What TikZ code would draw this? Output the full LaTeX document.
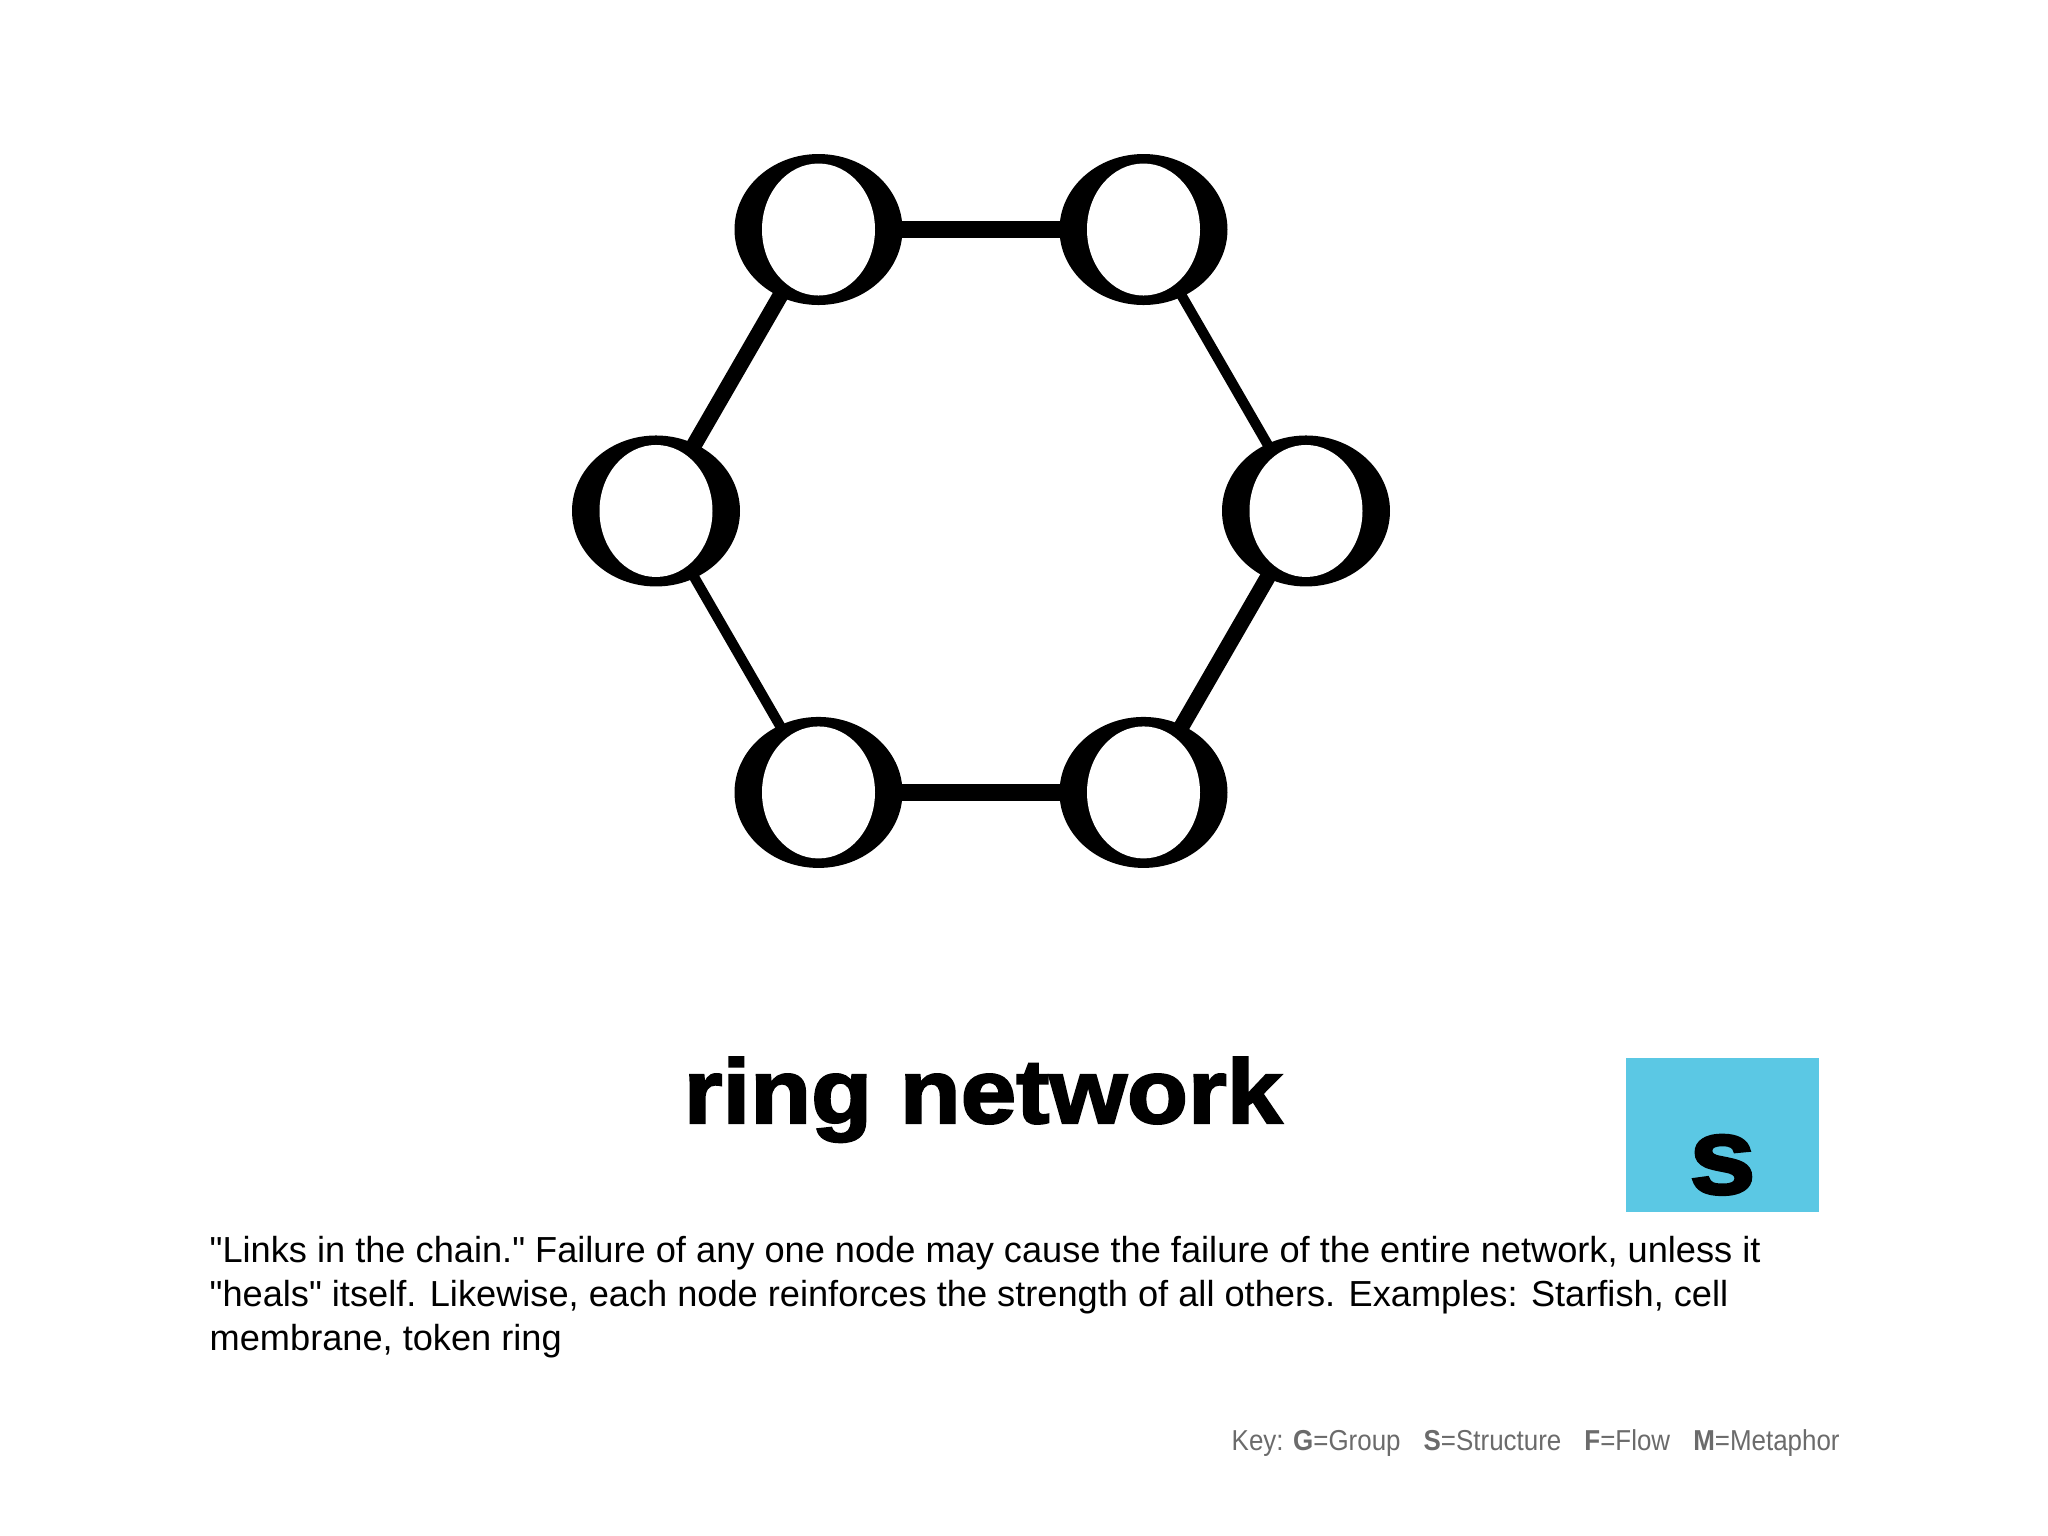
\documentclass[tikz,border=0pt]{standalone}
\usepackage{fontspec}
\setmainfont{Liberation Sans}
\newfontfamily\titlefont[FakeBold=2.5,FakeStretch=1.1]{Liberation Sans Bold}
\newfontfamily\bodyfont{Liberation Sans}
\newfontfamily\keyfont[FakeStretch=0.9]{Liberation Sans}
\usetikzlibrary{shapes.geometric}

\definecolor{keygray}{HTML}{6B6B6B}
\definecolor{structblue}{HTML}{5BC8E4}

\tikzset{
  ringnode/.style={ellipse, fill=black, inner sep=0pt,
    minimum width=1.68cm, minimum height=1.51cm,
    path picture={\fill[white, rotate around={15:(path picture bounding box.center)}]
      (path picture bounding box.center) ellipse [x radius=0.565cm, y radius=0.66cm];}},
  link/.style={shorten <=-2pt, shorten >=-2pt},
  barlink/.style={link, line width=4.9pt},
  thicklink/.style={link, line width=4.5pt},
  thinlink/.style={link, line width=2.9pt}
}

\begin{document}
\begin{tikzpicture}

  \useasboundingbox[fill=white] (0,0) rectangle (20.48,15.36);

  \begin{scope}[shift={(9.81,10.25)}]
  \draw (120:3.25) node[ringnode] (a) {};
  \draw (60:3.25) node[ringnode] (b) {};
  \draw (0:3.25) node[ringnode] (c) {};
  \draw (300:3.25) node[ringnode] (d) {};
  \draw (240:3.25) node[ringnode] (e) {};
  \draw (180:3.25) node[ringnode] (f) {};
  \end{scope}

  \draw[barlink] (a) -- (b);
  \draw[thinlink] (b) -- (c);
  \draw[thicklink] (c) -- (d);
  \draw[barlink] (d) -- (e);
  \draw[thinlink] (e) -- (f);
  \draw[thicklink] (f) -- (a);

  \node[anchor=base] (title) at (9.83,4.13)
    {\titlefont\fontsize{25.8pt}{26pt}\selectfont ring network};

  \node[fill=structblue, minimum width=1.93cm, minimum height=1.54cm, inner sep=0pt]
    (sbox) at (17.225,4.01) {};
  \node[anchor=base, inner sep=0pt] (sletter) at ([yshift=0.19cm]sbox.south)
    {\titlefont\fontsize{31pt}{31pt}\selectfont s};

  \node[anchor=north west, align=left, inner sep=0pt,
        font=\bodyfont\fontsize{10.3pt}{12.5pt}\selectfont] (desc) at (2.09,3.00)
    {"Links in the chain." Failure of any one node may cause the failure of the entire network, unless it\\
     "heals" itself. Likewise, each node reinforces the strength of all others. Examples: Starfish, cell\\
     membrane, token ring};

  \node[anchor=base west, inner sep=0pt, text=keygray,
        font=\keyfont\fontsize{8.2pt}{10pt}\selectfont] (key) at (12.31,0.85)
    {Key: \textbf{G}=Group\hspace{0.8em}\textbf{S}=Structure\hspace{0.8em}\textbf{F}=Flow\hspace{0.8em}\textbf{M}=Metaphor};

\end{tikzpicture}
\end{document}
